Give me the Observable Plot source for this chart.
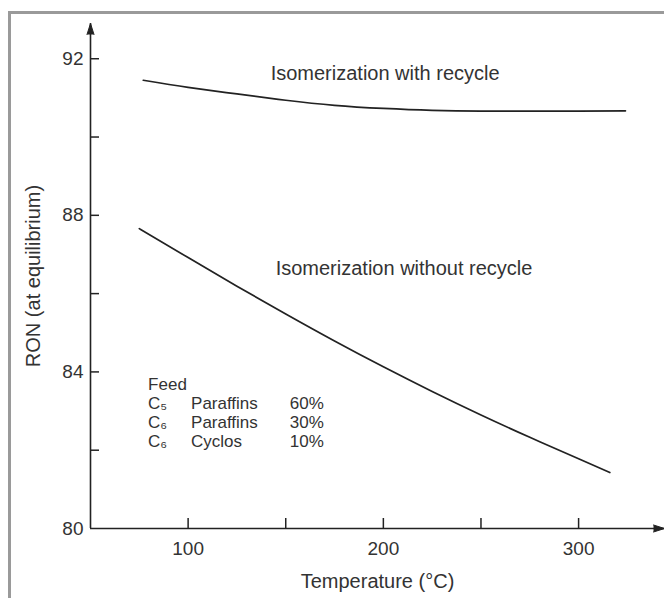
<!DOCTYPE html>
<html>
<head>
<meta charset="utf-8">
<script src="https://cdn.jsdelivr.net/npm/d3@7"></script>
<script src="https://cdn.jsdelivr.net/npm/@observablehq/plot@0.6"></script>
<style>
  html, body { margin: 0; padding: 0; background: #fff; overflow: hidden; }
  #wrap { position: relative; width: 664px; height: 598px; }
  #border { position: absolute; left: 8px; top: 11px; width: 700px; height: 700px;
            border-left: 3px solid #9a9a9a; border-top: 3px solid #9a9a9a; box-sizing: border-box; }
  #chart { position: absolute; left: 0; top: 0; }
</style>
</head>
<body>
<div id="wrap"><div id="border"></div><div id="chart"></div></div>
<script>
// ---- data ----
const tempWith = [77, 100, 125, 150, 175, 200, 225, 250, 275, 300, 324];
const ronWith  = [91.45, 91.27, 91.10, 90.94, 90.81, 90.73, 90.68, 90.66, 90.66, 90.66, 90.67];
const tempWithout = [75, 100, 125, 150, 175, 200, 225, 250, 275, 300, 316];
const ronWithout  = [87.66, 86.92, 86.19, 85.48, 84.79, 84.13, 83.50, 82.90, 82.33, 81.78, 81.43];

const xLabelTicks = [100, 200, 300];
const xTickMarks  = [100, 150, 200, 250, 300];
const yLabelTicks = [80, 84, 88, 92];
const yTickMarks  = [82, 84, 86, 88, 90, 92];
const xDomain = [50, 344];
const yDomain = [80, 92.9];

const seriesLabels = ["Isomerization with recycle", "Isomerization without recycle"];
const feedTitle = "Feed";
const feedComponents = ["C\u2085", "C\u2086", "C\u2086"];
const feedTypes = ["Paraffins", "Paraffins", "Cyclos"];
const feedShares = [60, 30, 10];
const xTitle = "Temperature (°C)";
const yTitle = "RON (at equilibrium)";

// ---- tables built from the arrays ----
const withData = tempWith.map((t, i) => ({t, ron: ronWith[i]}));
const withoutData = tempWithout.map((t, i) => ({t, ron: ronWithout[i]}));
const feedRows = feedComponents.map((c, i) => ({c, type: feedTypes[i], share: feedShares[i] + "%", row: i + 1}));

// annotation anchor positions (data space)
const labelPos = [{x: 200.9, y: 91.62}, {x: 210.6, y: 86.63}];
const feedX = {comp: 79.5, type: 101.5, share: 169.5};
const feedY = [83.68, 83.18, 82.70, 82.21];

const ink = "#333";
const W = 664, H = 598, mL = 90, mR = 0, mT = 23, mB = 70;

const chart = Plot.plot({
  width: W, height: H,
  marginLeft: mL, marginRight: mR, marginTop: mT, marginBottom: mB,
  x: {domain: xDomain, label: null},
  y: {domain: yDomain, label: null},
  style: {fontFamily: "'Liberation Sans', Arial, Helvetica, sans-serif", fontSize: "19px", color: ink, background: "transparent"},
  marks: [
    // axis lines
    Plot.ruleY([yDomain[0]], {stroke: "#222", strokeWidth: 1.6}),
    Plot.ruleX([xDomain[0]], {stroke: "#222", strokeWidth: 1.6}),
    // arrow heads
    Plot.vector([{x: xDomain[0], y: yDomain[1], r: 0}, {x: xDomain[1], y: yDomain[0], r: 90}],
      {x: "x", y: "y", rotate: "r", shape: "spike", anchor: "end", length: 11, r: 3.5, fill: "#222", stroke: "#222", strokeWidth: 1}),
    // inward tick marks
    Plot.tickX(xTickMarks, {x: d => d, insetTop: (H - mT - mB) - 10, stroke: "#222", strokeWidth: 1.5}),
    Plot.tickY(yTickMarks, {y: d => d, insetRight: (W - mL - mR) - 9, stroke: "#222", strokeWidth: 1.5}),
    // tick labels
    Plot.axisX({ticks: xLabelTicks, tickSize: 0, tickPadding: 13, fontSize: 19}),
    Plot.axisY({ticks: yLabelTicks, tickSize: 0, tickPadding: 7, fontSize: 19}),
    // curves
    Plot.line(withData, {x: "t", y: "ron", curve: "natural", stroke: "#222", strokeWidth: 1.7}),
    Plot.line(withoutData, {x: "t", y: "ron", curve: "natural", stroke: "#222", strokeWidth: 1.7}),
    // series labels
    Plot.text(seriesLabels, {x: (d, i) => labelPos[i].x, y: (d, i) => labelPos[i].y, text: d => d, fontSize: 20, fill: ink}),
    // feed block
    Plot.text([feedTitle], {x: feedX.comp, y: feedY[0], text: d => d, textAnchor: "start", fontSize: 17, fill: ink}),
    Plot.text(feedRows, {x: feedX.comp, y: d => feedY[d.row], text: "c", textAnchor: "start", fontSize: 17, fill: ink}),
    Plot.text(feedRows, {x: feedX.type, y: d => feedY[d.row], text: "type", textAnchor: "start", fontSize: 17, fill: ink}),
    Plot.text(feedRows, {x: feedX.share, y: d => feedY[d.row], text: "share", textAnchor: "end", fontSize: 17, fill: ink}),
    // axis titles
    Plot.text([xTitle], {frameAnchor: "bottom", text: d => d, dy: 59, textAnchor: "middle", fontSize: 20, fill: ink}),
    Plot.text([yTitle], {frameAnchor: "left", text: d => d, dx: -57, rotate: -90, textAnchor: "middle", fontSize: 20, fill: ink})
  ]
});
document.getElementById("chart").appendChild(chart);
</script>
</body>
</html>
